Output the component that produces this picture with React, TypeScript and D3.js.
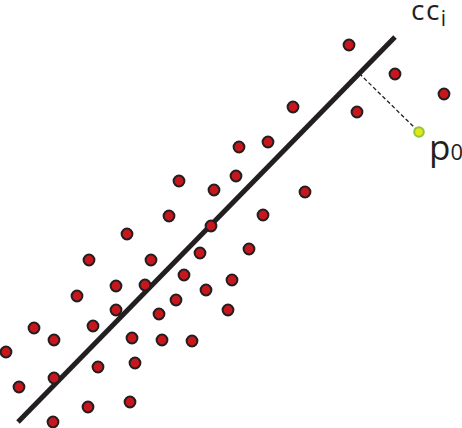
import React from 'react';
import * as d3 from 'd3';

const W = 462;
const H = 428;

// scatter points (x, y in chart units, y grows upward)
const pointX = [179, 214, 349, 395, 444, 357, 293, 268, 239, 236, 305, 263, 169, 211, 127, 200, 249, 89, 151, 184, 232, 116, 145, 206, 77, 176, 228, 116, 159, 34, 93, 54, 132, 162, 192, 6, 135, 98, 54, 19, 88, 130, 53];
const pointY = [247, 238, 383, 354, 334, 316, 321, 286, 281, 252, 236, 213, 212, 202, 194, 175, 179, 168, 168, 153, 148, 142, 143, 138, 132, 128, 118, 118, 114, 100, 102, 88, 90, 88, 87, 76, 65, 61, 50, 41, 21, 26, 6];

// fitted line cc_i endpoints
const lineX = [18, 395];
const lineY = [6, 391];

// outlier p0
const p0 = { x: 419, y: 296 };

export default () => {
  const xScale = d3.scaleLinear().domain([0, W]).range([0, W]);
  const yScale = d3.scaleLinear().domain([0, H]).range([H, 0]);

  const ax = xScale(lineX[0]), ay = yScale(lineY[0]);
  const bx = xScale(lineX[1]), by = yScale(lineY[1]);
  const px = xScale(p0.x), py = yScale(p0.y);

  // foot of the perpendicular from p0 onto the line
  const dx = bx - ax, dy = by - ay;
  const t = ((px - ax) * dx + (py - ay) * dy) / (dx * dx + dy * dy);
  const fx = ax + t * dx, fy = ay + t * dy;

  const line = d3.line<[number, number]>();

  return (
    <svg width={W} height={H} style={{ position: 'absolute', left: 0, top: 0, background: '#fff' }}
      fontFamily="'Open Sans', sans-serif">
      <path d={line([[ax, ay], [bx, by]]) || ''} stroke="#231f20" strokeWidth={5} fill="none" />
      <path d={line([[fx, fy], [px, py]]) || ''} stroke="#231f20" strokeWidth={1.3} strokeDasharray="4,2.5" fill="none" />
      {pointX.map((x, i) => (
        <circle key={i} cx={xScale(x)} cy={yScale(pointY[i])} r={5.4} fill="#c8161d" stroke="#231f20" strokeWidth={2} />
      ))}
      <circle cx={px} cy={py} r={4.8} fill="#e5e51b" stroke="#8cc63f" strokeWidth={2} />
      <text x={411} y={20} fontSize={28} letterSpacing={1.5} fill="#231f20">cc<tspan fontSize={21} dy={6}>i</tspan></text>
      <text x={429} y={160} fontSize={35} fill="#231f20">p<tspan fontSize={22} dy={0}>0</tspan></text>
    </svg>
  );
};
